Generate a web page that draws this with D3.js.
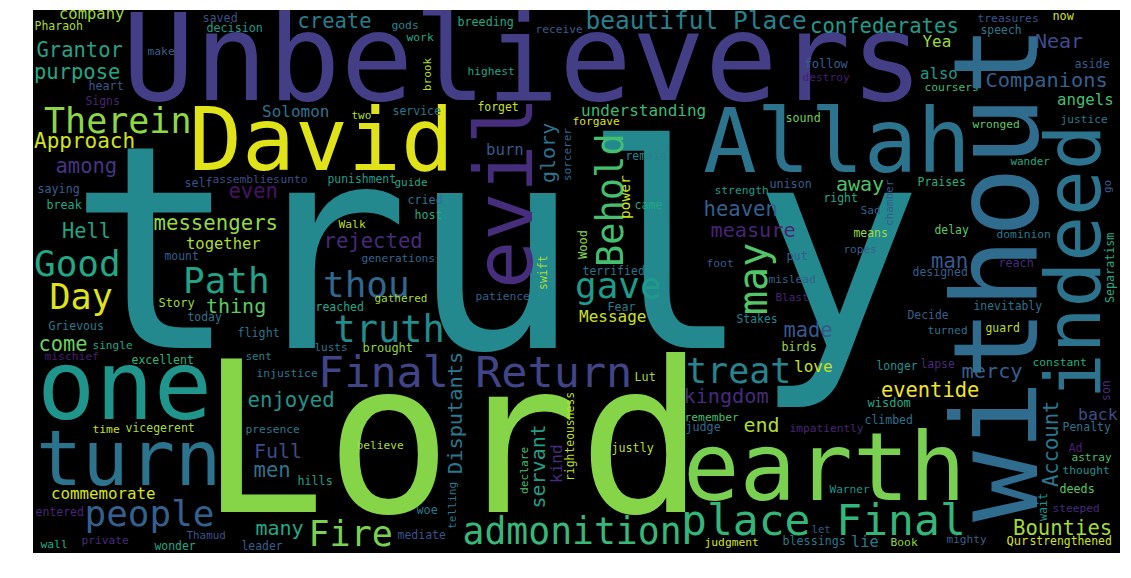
<!DOCTYPE html>
<html>
<head>
<meta charset="utf-8">
<script src="https://cdn.jsdelivr.net/npm/d3@7"></script>
<style>
  body { margin: 0; background: #ffffff; }
  svg text { font-family: "DejaVu Sans Mono", "Liberation Mono", monospace; }
</style>
</head>
<body>
<svg id="chart" width="1131" height="578"></svg>
<script>
// Word-cloud canvas (units of the cloud image)
const cloudWidth = 1087, cloudHeight = 543;

// Rows: [word, x (text start), y (baseline), font size, viridis shade]
const giantWords = [
  ["truly", 35, 338, 284, 0.47],
  ["Lord", 166, 502, 210, 0.82],
  ["Unbelievers", 89, 90, 121, 0.18],
  ["David", 156, 160, 88, 0.95],
  ["Allah", 670, 162, 89, 0.38],
  ["earth", 650, 490, 94, 0.8],
  ["one", 4, 409, 97, 0.52],
  ["turn", 3, 475, 77, 0.38]
];

const largeWords = [
  ["Therein", 11, 123, 35, 0.83],
  ["Good", 1, 266, 36, 0.6],
  ["Path", 150, 283, 36, 0.58],
  ["Day", 16.5, 298.5, 35, 0.95],
  ["thou", 290, 287, 36, 0.33],
  ["truth", 300.5, 332, 37, 0.48],
  ["gave", 542, 288, 36, 0.55],
  ["treat", 653, 373, 35, 0.45],
  ["Final Return", 285, 377, 43.5, 0.2],
  ["place Final", 648, 525, 43, 0.66],
  ["admonition", 429.5, 534, 36.4, 0.67],
  ["Fire", 275.5, 536, 35, 0.8],
  ["people", 51.5, 516, 36, 0.3]
];

const mediumWords = [
  ["Approach", 1, 138, 21, 0.93],
  ["company", 26, 9, 15.5, 0.85],
  ["create", 264.5, 18, 20.5, 0.42],
  ["Grantor", 3.5, 46.7, 20.5, 0.58],
  ["purpose", 1, 69, 20.5, 0.6],
  ["among", 22.5, 163, 20.5, 0.15],
  ["even", 195.5, 188, 20.5, 0.05],
  ["beautiful Place", 552.5, 19, 24.5, 0.43],
  ["confederates", 777, 22.5, 20.6, 0.55],
  ["Near", 1002, 38, 20, 0.23],
  ["Companions", 952.5, 77, 20.3, 0.3],
  ["understanding", 548, 106, 16, 0.68],
  ["Hell", 29, 228, 20.4, 0.58],
  ["messengers", 120.5, 220, 20.7, 0.84],
  ["rejected", 290.5, 238, 20.6, 0.12],
  ["thing", 173, 303, 20, 0.75],
  ["come", 5.5, 341, 20.4, 0.78],
  ["heaven", 670.5, 206, 20.6, 0.3],
  ["measure", 677.5, 227, 20.2, 0.1],
  ["away", 803, 181, 20, 0.72],
  ["man", 898, 258, 20.6, 0.27],
  ["made", 750.5, 327, 20.4, 0.27],
  ["mercy", 928.5, 368, 20.3, 0.3],
  ["eventide", 848, 387, 20.4, 0.98],
  ["kingdom", 650.5, 393, 20.2, 0.12],
  ["end", 710.5, 422, 20, 0.88],
  ["enjoyed", 214.5, 397, 20.7, 0.52],
  ["Full", 221, 448, 20, 0.22],
  ["men", 220.5, 467, 20.6, 0.38],
  ["many", 222.5, 525, 20, 0.6],
  ["Bounties", 980, 525, 20.6, 0.86],
  ["Message", 546, 312, 16, 0.92],
  ["together", 153, 239, 15.5, 0.87],
  ["commemorate", 18, 489, 15.8, 0.94],
  ["Solomon", 229, 107, 16, 0.38],
  ["burn", 453, 145, 15.7, 0.27],
  ["also", 887, 69, 15.7, 0.55],
  ["angels", 1024, 95, 15.7, 0.7],
  ["Yea", 889.5, 36.6, 15.9, 0.85],
  ["love", 761, 362, 16, 0.92],
  ["back", 1045, 409.5, 16.5, 0.23],
  ["lie", 818, 536.6, 15.3, 0.4]
];

const smallWords = [
  ["Pharaoh", 1.5, 20, 11.5, 0.87],
  ["saved", 169.5, 11.5, 11.7, 0.25],
  ["decision", 173.5, 22, 11.7, 0.55],
  ["make", 114.5, 45, 11.3, 0.3],
  ["heart", 55.5, 80, 11.7, 0.27],
  ["Signs", 52.5, 95, 11.4, 0.1],
  ["two", 318.5, 109, 11, 0.88],
  ["assemblies", 179.5, 173, 11.2, 0.22],
  ["unto", 247.5, 173, 11.2, 0.25],
  ["self", 151.5, 177, 11.7, 0.25],
  ["punishment", 294.5, 173, 11.4, 0.55],
  ["saying", 4.5, 183, 11.7, 0.3],
  ["gods", 358.5, 19, 11.3, 0.45],
  ["work", 373.5, 31, 11.3, 0.6],
  ["breeding", 424.5, 16, 11.7, 0.6],
  ["receive", 502.5, 23, 11.2, 0.28],
  ["highest", 434.5, 65, 11.2, 0.58],
  ["service", 359.5, 105, 11.5, 0.4],
  ["forget", 444.5, 101, 11.4, 0.92],
  ["forgave", 539.5, 115, 11.2, 0.95],
  ["remain", 592.5, 150, 11.4, 0.43],
  ["guide", 361.5, 176, 11, 0.6],
  ["cried", 374.5, 194, 11.7, 0.38],
  ["host", 381.5, 209, 11.7, 0.62],
  ["strength", 681.5, 184, 11.3, 0.55],
  ["treasures", 944.5, 12, 11.3, 0.25],
  ["now", 1019.5, 10, 11.8, 0.93],
  ["speech", 947.5, 24, 11.4, 0.4],
  ["follow", 771.5, 58, 12, 0.3],
  ["destroy", 769.5, 71, 11.2, 0.08],
  ["aside", 1041.5, 58, 11.7, 0.28],
  ["coursers", 891.5, 81, 11.3, 0.68],
  ["sound", 752.5, 112, 11.7, 0.78],
  ["justice", 1027.5, 113, 11.2, 0.4],
  ["wronged", 939.5, 118, 11.2, 0.75],
  ["unison", 736.5, 178, 11.7, 0.3],
  ["Praises", 884.5, 176, 11.5, 0.62],
  ["wander", 977.5, 155, 10.9, 0.6],
  ["Sad", 827.5, 204, 11.2, 0.3],
  ["right", 790.5, 192, 11.4, 0.6],
  ["means", 820.5, 227, 11.4, 0.85],
  ["delay", 901.5, 224, 11.4, 0.75],
  ["dominion", 963.5, 228, 11.3, 0.4],
  ["ropes", 810.5, 243, 11, 0.3],
  ["put", 753.5, 250, 11.8, 0.3],
  ["reach", 965.5, 257, 11.7, 0.12],
  ["designed", 879.5, 266, 11.5, 0.3],
  ["mislead", 735.5, 273, 11.2, 0.3],
  ["Blast", 742.5, 291, 11, 0.1],
  ["inevitably", 940.5, 300, 11.4, 0.38],
  ["Stakes", 703.5, 313, 11.4, 0.45],
  ["Decide", 874.5, 309, 11.4, 0.3],
  ["turned", 894.5, 324, 11.1, 0.38],
  ["guard", 952.5, 322, 11.4, 0.9],
  ["birds", 748.5, 341, 11.7, 0.85],
  ["longer", 843.5, 360, 11.4, 0.5],
  ["lapse", 887.5, 358, 11.4, 0.12],
  ["constant", 999.5, 356, 11.3, 0.62],
  ["break", 13.5, 199, 11.7, 0.6],
  ["Walk", 305.5, 218, 11.3, 0.9],
  ["mount", 131.5, 250, 11.4, 0.3],
  ["generations", 328.5, 252, 11.1, 0.33],
  ["Story", 125.5, 297, 12, 0.85],
  ["reached", 282.5, 301, 11.5, 0.6],
  ["today", 154.5, 311, 11.4, 0.38],
  ["Grievous", 15.5, 320, 11.5, 0.4],
  ["flight", 204.5, 327, 11.7, 0.38],
  ["single", 59.5, 339, 11.1, 0.6],
  ["lusts", 281.5, 341, 11, 0.4],
  ["brought", 329.5, 342, 12, 0.83],
  ["mischief", 11.5, 350, 11.3, 0.08],
  ["sent", 212.5, 350, 10.9, 0.42],
  ["excellent", 98.5, 354, 11.5, 0.65],
  ["injustice", 223.5, 367, 11.3, 0.4],
  ["patience", 442.5, 290, 11.3, 0.3],
  ["terrified", 549.5, 265, 11.5, 0.38],
  ["came", 601.5, 199, 11.7, 0.6],
  ["foot", 673.5, 257, 11.3, 0.28],
  ["Fear", 574.5, 301, 11.7, 0.42],
  ["gathered", 341.5, 292, 11, 0.87],
  ["Lut", 601.5, 371, 11.8, 0.86],
  ["time", 59.5, 423, 11.3, 0.92],
  ["vicegerent", 92.5, 422, 11.5, 0.87],
  ["presence", 212.5, 423, 11.3, 0.4],
  ["believe", 323.5, 439, 11.2, 0.87],
  ["hills", 264.5, 475, 11.7, 0.57],
  ["entered", 2.5, 506, 11.5, 0.1],
  ["Thamud", 153.5, 529, 10.9, 0.25],
  ["wall", 7.5, 538, 11.3, 0.6],
  ["private", 48.5, 534, 11.2, 0.12],
  ["wonder", 121.5, 540, 11.4, 0.6],
  ["leader", 208.5, 540, 11.4, 0.3],
  ["woe", 383.5, 504, 11.8, 0.4],
  ["mediate", 364.5, 529, 11.5, 0.25],
  ["remember", 651.5, 411, 11.3, 0.7],
  ["judge", 652.5, 421, 11.7, 0.33],
  ["justly", 578.5, 442, 11.7, 0.9],
  ["judgment", 671.5, 536, 11.3, 0.93],
  ["wisdom", 834.5, 397, 12, 0.6],
  ["climbed", 831.5, 414, 11.5, 0.38],
  ["impatiently", 756.5, 422, 11.2, 0.1],
  ["Penalty", 1029.5, 421, 11.5, 0.38],
  ["Ad", 1035.5, 442, 11.8, 0.08],
  ["astray", 1038.5, 451, 11.1, 0.7],
  ["thought", 1029.5, 464, 11.2, 0.5],
  ["Warner", 796.5, 483, 11.1, 0.52],
  ["deeds", 1026.5, 483, 11.7, 0.74],
  ["steeped", 1019.5, 502, 11.2, 0.12],
  ["let", 778.5, 523, 10.6, 0.28],
  ["blessings", 749.5, 535, 11.7, 0.4],
  ["Book", 857.5, 536, 11.3, 0.83],
  ["mighty", 913.5, 533, 11.1, 0.3],
  ["Qur", 973.5, 535, 12, 0.95],
  ["strengthened", 996.5, 535, 11.4, 0.93]
];

// Rotated words (read bottom to top): [word, baseline x, start y, font size, shade]
const verticalWords = [
  ["without", 1004, 512, 118, 0.35],
  ["evil", 499, 279, 80, 0.13],
  ["indeed", 1067, 389, 76, 0.38],
  ["Behold", 590, 257, 37, 0.7],
  ["may", 734, 305, 40, 0.73],
  ["Disputants", 429, 464, 20.3, 0.4],
  ["servant", 512, 498.5, 20, 0.57],
  ["Account", 1025, 477, 20.5, 0.4],
  ["glory", 522, 173, 20, 0.38],
  ["kind", 529, 473, 16, 0.12],
  ["power", 597, 209, 14.5, 0.92],
  ["brook", 398, 81, 11, 0.88],
  ["sorcerer", 538, 171, 11, 0.33],
  ["swift", 514, 280, 11.5, 0.87],
  ["Wood", 554, 249, 12, 0.82],
  ["chamber", 860, 216, 11, 0.28],
  ["Separatism", 1080.5, 293, 11.7, 0.6],
  ["go", 1078, 183, 11, 0.3],
  ["son", 1077, 391, 11.5, 0.12],
  ["righteousness", 540.5, 471, 11.4, 0.9],
  ["declare", 494.5, 484, 11.2, 0.7],
  ["telling", 422.5, 519, 11.2, 0.4],
  ["wait", 1014, 511, 11.7, 0.5]
];

const svg = d3.select("#chart");
const x = d3.scaleLinear().domain([0, cloudWidth]).range([33, 1120]);
const y = d3.scaleLinear().domain([0, cloudHeight]).range([10, 553]);
const size = d3.scaleLinear().domain([0, cloudWidth]).range([0, x(cloudWidth) - x(0)]);
const colour = d3.interpolateViridis;

svg.append("defs").append("clipPath").attr("id", "cloudClip")
  .append("rect")
  .attr("x", x(0)).attr("y", y(0))
  .attr("width", x(cloudWidth) - x(0)).attr("height", y(cloudHeight) - y(0));

svg.append("rect")
  .attr("x", x(0)).attr("y", y(0))
  .attr("width", x(cloudWidth) - x(0)).attr("height", y(cloudHeight) - y(0))
  .attr("fill", "#000000");

const g = svg.append("g").attr("clip-path", "url(#cloudClip)");

const horizontal = [...giantWords, ...largeWords, ...mediumWords, ...smallWords];

g.selectAll("text.h")
  .data(horizontal)
  .join("text")
  .attr("class", "h")
  .attr("x", d => x(d[1]))
  .attr("y", d => y(d[2]))
  .attr("font-size", d => size(d[3]))
  .attr("fill", d => colour(d[4]))
  .attr("xml:space", "preserve")
  .text(d => d[0]);

g.selectAll("text.v")
  .data(verticalWords)
  .join("text")
  .attr("class", "v")
  .attr("transform", d => `translate(${x(d[1])},${y(d[2])}) rotate(-90)`)
  .attr("font-size", d => size(d[3]))
  .attr("fill", d => colour(d[4]))
  .text(d => d[0]);
</script>
</body>
</html>
